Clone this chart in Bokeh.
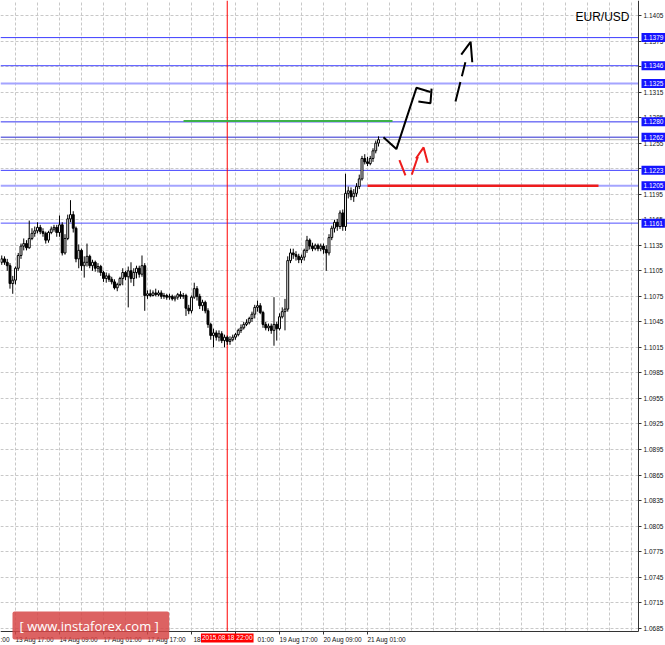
from bokeh.plotting import figure
from bokeh.models import ColumnDataSource, Range1d, FixedTicker, PrintfTickFormatter, Span, Label
from bokeh.embed import file_html
from bokeh.resources import INLINE

# ---------------- data (EUR/USD, H1 bars; index 0 = 13 Aug 17:00) ----------------
bar_index = list(range(-5, 133))
opens = [1.1115, 1.1119, 1.1115, 1.1111, 1.1090, 1.1094, 1.1108, 1.1123, 1.1134, 1.1137,
         1.1132, 1.1143, 1.1149, 1.1152, 1.1156, 1.1151, 1.1149, 1.1141, 1.1150, 1.1154,
         1.1156, 1.1150, 1.1159, 1.1126, 1.1143, 1.1166, 1.1171, 1.1155, 1.1119, 1.1129,
         1.1111, 1.1115, 1.1122, 1.1111, 1.1115, 1.1108, 1.1110, 1.1103, 1.1096, 1.1099,
         1.1095, 1.1092, 1.1085, 1.1089, 1.1096, 1.1103, 1.1098, 1.1105, 1.1096, 1.1103,
         1.1108, 1.1101, 1.1111, 1.1076, 1.1078, 1.1076, 1.1079, 1.1077, 1.1079, 1.1075,
         1.1076, 1.1074, 1.1075, 1.1072, 1.1074, 1.1077, 1.1075, 1.1076, 1.1061, 1.1058,
         1.1074, 1.1084, 1.1075, 1.1064, 1.1068, 1.1058, 1.1042, 1.1029, 1.1032, 1.1027,
         1.1031, 1.1023, 1.1027, 1.1022, 1.1024, 1.1027, 1.1030, 1.1035, 1.1038, 1.1042,
         1.1044, 1.1049, 1.1054, 1.1062, 1.1064, 1.1056, 1.1042, 1.1038, 1.1040, 1.1035,
         1.1042, 1.1037, 1.1051, 1.1057, 1.1060, 1.1117, 1.1126, 1.1124, 1.1122, 1.1118,
         1.1121, 1.1129, 1.1141, 1.1134, 1.1131, 1.1135, 1.1131, 1.1134, 1.1130, 1.1126,
         1.1144, 1.1155, 1.1162, 1.1157, 1.1173, 1.1157, 1.1196, 1.1199, 1.1192, 1.1196,
         1.1204, 1.1213, 1.1237, 1.1233, 1.1231, 1.1237, 1.1246, 1.1255]
highs = [1.1123, 1.1122, 1.1119, 1.1114, 1.1099, 1.1110, 1.1126, 1.1137, 1.1143, 1.1141,
         1.1164, 1.1155, 1.1157, 1.1162, 1.1159, 1.1155, 1.1151, 1.1152, 1.1157, 1.1159,
         1.1159, 1.1170, 1.1162, 1.1148, 1.1171, 1.1188, 1.1175, 1.1157, 1.1136, 1.1131,
         1.1122, 1.1137, 1.1124, 1.1118, 1.1117, 1.1114, 1.1112, 1.1105, 1.1103, 1.1102,
         1.1098, 1.1095, 1.1091, 1.1098, 1.1108, 1.1105, 1.1110, 1.1115, 1.1108, 1.1111,
         1.1111, 1.1123, 1.1114, 1.1082, 1.1083, 1.1082, 1.1084, 1.1082, 1.1082, 1.1079,
         1.1078, 1.1078, 1.1077, 1.1076, 1.1079, 1.1081, 1.1079, 1.1078, 1.1065, 1.1076,
         1.1091, 1.1087, 1.1078, 1.1071, 1.1070, 1.1061, 1.1044, 1.1037, 1.1035, 1.1035,
         1.1034, 1.1030, 1.1029, 1.1028, 1.1030, 1.1032, 1.1037, 1.1042, 1.1045, 1.1048,
         1.1051, 1.1057, 1.1065, 1.1070, 1.1067, 1.1058, 1.1045, 1.1043, 1.1043, 1.1074,
         1.1045, 1.1055, 1.1062, 1.1072, 1.1122, 1.1131, 1.1131, 1.1128, 1.1125, 1.1124,
         1.1131, 1.1146, 1.1143, 1.1138, 1.1137, 1.1137, 1.1137, 1.1137, 1.1135, 1.1148,
         1.1158, 1.1165, 1.1166, 1.1176, 1.1177, 1.1219, 1.1204, 1.1203, 1.1201, 1.1208,
         1.1218, 1.1240, 1.1242, 1.1239, 1.1240, 1.1249, 1.1258, 1.1263]
lows = [1.1112, 1.1112, 1.1105, 1.1084, 1.1078, 1.1089, 1.1105, 1.1119, 1.1129, 1.1129,
        1.1131, 1.1141, 1.1145, 1.1149, 1.1148, 1.1145, 1.1137, 1.1138, 1.1148, 1.1151,
        1.1145, 1.1145, 1.1123, 1.1124, 1.1141, 1.1162, 1.1150, 1.1115, 1.1108, 1.1105,
        1.1097, 1.1110, 1.1108, 1.1105, 1.1104, 1.1103, 1.1099, 1.1092, 1.1091, 1.1092,
        1.1089, 1.1083, 1.1081, 1.1087, 1.1088, 1.1094, 1.1062, 1.1091, 1.1087, 1.1096,
        1.1097, 1.1098, 1.1058, 1.1072, 1.1074, 1.1075, 1.1075, 1.1075, 1.1072, 1.1072,
        1.1071, 1.1071, 1.1070, 1.1069, 1.1071, 1.1072, 1.1072, 1.1052, 1.1054, 1.1055,
        1.1072, 1.1070, 1.1060, 1.1058, 1.1055, 1.1038, 1.1024, 1.1015, 1.1023, 1.1022,
        1.1020, 1.1015, 1.1018, 1.1018, 1.1022, 1.1024, 1.1028, 1.1032, 1.1036, 1.1040,
        1.1042, 1.1045, 1.1049, 1.1057, 1.1054, 1.1038, 1.1035, 1.1034, 1.1031, 1.1017,
        1.1023, 1.1035, 1.1049, 1.1035, 1.1057, 1.1114, 1.1119, 1.1117, 1.1114, 1.1114,
        1.1117, 1.1126, 1.1130, 1.1128, 1.1129, 1.1128, 1.1128, 1.1125, 1.1105, 1.1123,
        1.1141, 1.1150, 1.1152, 1.1154, 1.1152, 1.1152, 1.1190, 1.1188, 1.1186, 1.1192,
        1.1201, 1.1211, 1.1230, 1.1228, 1.1229, 1.1233, 1.1243, 1.1251]
closes = [1.1119, 1.1115, 1.1111, 1.1090, 1.1094, 1.1108, 1.1123, 1.1134, 1.1137, 1.1132,
          1.1143, 1.1149, 1.1152, 1.1156, 1.1151, 1.1149, 1.1141, 1.1150, 1.1154, 1.1156,
          1.1150, 1.1159, 1.1126, 1.1143, 1.1166, 1.1171, 1.1155, 1.1119, 1.1129, 1.1111,
          1.1115, 1.1122, 1.1111, 1.1115, 1.1108, 1.1110, 1.1103, 1.1096, 1.1099, 1.1095,
          1.1092, 1.1085, 1.1089, 1.1096, 1.1103, 1.1098, 1.1105, 1.1096, 1.1103, 1.1108,
          1.1101, 1.1111, 1.1076, 1.1078, 1.1076, 1.1079, 1.1077, 1.1079, 1.1075, 1.1076,
          1.1074, 1.1075, 1.1072, 1.1074, 1.1077, 1.1075, 1.1076, 1.1061, 1.1058, 1.1074,
          1.1084, 1.1075, 1.1064, 1.1068, 1.1058, 1.1042, 1.1029, 1.1032, 1.1027, 1.1031,
          1.1023, 1.1027, 1.1022, 1.1024, 1.1027, 1.1030, 1.1035, 1.1038, 1.1042, 1.1044,
          1.1049, 1.1054, 1.1062, 1.1064, 1.1056, 1.1042, 1.1038, 1.1040, 1.1035, 1.1042,
          1.1037, 1.1051, 1.1057, 1.1060, 1.1117, 1.1126, 1.1124, 1.1122, 1.1118, 1.1121,
          1.1129, 1.1141, 1.1134, 1.1131, 1.1135, 1.1131, 1.1134, 1.1130, 1.1126, 1.1144,
          1.1155, 1.1162, 1.1157, 1.1173, 1.1157, 1.1196, 1.1199, 1.1192, 1.1196, 1.1204,
          1.1213, 1.1237, 1.1233, 1.1231, 1.1237, 1.1246, 1.1255, 1.1259]

time_ticks = [0, 16, 32, 48, 64, 80, 96, 112, 128]
time_labels = ["13 Aug 17:00", "14 Aug 09:00", "17 Aug 01:00", "17 Aug 17:00", "18 Aug 09:00",
               "19 Aug 01:00", "19 Aug 17:00", "20 Aug 09:00", "21 Aug 01:00"]
marker_index = 77
marker_label = "2015.08.18 22:00"

price_ticks = [1.0685, 1.0715, 1.0745, 1.0775, 1.0805, 1.0835, 1.0865, 1.0895, 1.0925,
               1.0955, 1.0985, 1.1015, 1.1045, 1.1075, 1.1105, 1.1135, 1.1165, 1.1195,
               1.1225, 1.1255, 1.1285, 1.1315, 1.1345, 1.1375, 1.1405]

level_prices = [1.1379, 1.1346, 1.1325, 1.1280, 1.1262, 1.1223, 1.1205, 1.1161]
level_colors = ["#3c3cff", "#4646ff", "#a4a4ff", "#3232f0", "#2a2ad0", "#4040ff", "#a4a4ff", "#5050ff"]
level_widths = [1, 1, 2, 1, 1, 1, 2, 1]

green_x = [61.1, 137.1]
green_y = [1.1281, 1.1281]
red_x = [128.0, 212.0]
red_y = [1.1205, 1.1205]

forecast_x = [133.8, 138.5, 145.8, 150.9]
forecast_y = [1.1262, 1.1248, 1.1320, 1.1315]
pullback_x = [151.3, 150.9, 146.5]
pullback_y = [1.1319, 1.1302, 1.1304]
ext_x = [160.0, 163.6]
ext_y = [1.1304, 1.1350]
ext_head_x = [162.1, 165.5, 166.1]
ext_head_y = [1.1359, 1.1374, 1.1350]
alt_xs = [[139.6, 141.8], [144.1, 146.3], [145.6, 148.4, 149.9]]
alt_ys = [[1.1235, 1.1217], [1.1218, 1.1239], [1.1237, 1.1250, 1.1232]]

# ---------------- layout constants ----------------
FONT = "Liberation Sans"
W, H = 665, 645
X0, X1 = -5.4545, 236.3636          # whole canvas in bar units
Y0, Y1 = 1.0664725, 1.14226         # whole canvas in price units
AXIS_X = 226.545                    # price scale position (bar units)
AXIS_Y = 1.068118                   # time scale position (price units)
LABEL_SHIFT = 7                     # MT4 writes time labels to the right of the tick
visible_parts = {64: ("18", 2), 80: ("01:00", 11)}   # parts not hidden by the red date box

p = figure(width=W, height=H, x_range=Range1d(X0, X1), y_range=Range1d(Y0, Y1),
           output_backend="svg", toolbar_location=None, y_axis_location="right",
           min_border_left=0, min_border_top=0, min_border_right=0, min_border_bottom=0,
           background_fill_color="white", border_fill_color="white")
p.outline_line_color = None

# price axis
yax = p.yaxis[0]
yax.fixed_location = AXIS_X
yax.bounds = (AXIS_Y, Y1)
yax.ticker = FixedTicker(ticks=price_ticks)
yax.formatter = PrintfTickFormatter(format="%.4f")
yax.major_label_text_font = FONT
yax.major_label_text_font_size = "6.5px"
yax.major_label_text_color = "#111111"
yax.axis_line_color = "#333333"
yax.major_tick_line_color = "#333333"
yax.major_tick_out = 3
yax.major_tick_in = 0
yax.minor_tick_line_color = None
yax.major_label_standoff = 2

# time axis: tick marks at the bar, labels written to the right of it
label_pos, overrides = [-4], {-4: ":00"}
for t, s in zip(time_ticks, time_labels):
    if t in visible_parts:
        txt, sh = visible_parts[t]
    else:
        txt, sh = s, LABEL_SHIFT
    label_pos.append(t + sh)
    overrides[t + sh] = txt
xax = p.xaxis[0]
xax.fixed_location = AXIS_Y
xax.bounds = (X0, AXIS_X)
xax.ticker = FixedTicker(ticks=label_pos, minor_ticks=time_ticks)
xax.major_label_overrides = overrides
xax.major_label_text_font = FONT
xax.major_label_text_font_size = "6.5px"
xax.major_label_text_color = "#111111"
xax.axis_line_color = "#333333"
xax.major_tick_line_color = None
xax.major_tick_out = 0
xax.major_tick_in = 0
xax.minor_tick_line_color = "#333333"
xax.minor_tick_out = 3
xax.minor_tick_in = 0
xax.major_label_standoff = 2

p.xgrid[0].ticker = FixedTicker(ticks=list(range(-8, 232, 8)))
for g in (p.xgrid[0], p.ygrid[0]):
    g.grid_line_color = "#c8c8c8"
    g.grid_line_dash = "3 2"
    g.grid_line_width = 1

# level lines (under the candles)
for price, col, w in zip(level_prices, level_colors, level_widths):
    p.add_layout(Span(location=price, dimension="width", line_color=col, line_width=w, level="underlay"))
p.add_layout(Span(location=closes[-1], dimension="width", line_color="#b4b4b4", line_width=1, level="underlay"))
p.add_layout(Span(location=marker_index, dimension="height", line_color="#ff0000", line_width=1, level="underlay"))

# keep the scale margins clean (grid and lines stop at the scales)
p.quad(left=[AXIS_X, X0], right=[X1, X1], bottom=[Y0, Y0], top=[Y1, AXIS_Y],
       fill_color="white", line_color=None)

# candles
src = ColumnDataSource(dict(
    x=bar_index, o=opens, h=highs, l=lows, c=closes,
    top=[max(o, c) for o, c in zip(opens, closes)],
    bottom=[min(o, c) for o, c in zip(opens, closes)],
    fill=["white" if c >= o else "black" for o, c in zip(opens, closes)],
))
p.segment("x", "h", "x", "l", source=src, line_color="black", line_width=1)
p.vbar(x="x", width=0.7, top="top", bottom="bottom", fill_color="fill",
       line_color="black", line_width=1, source=src)

p.line(green_x, green_y, line_color="#3cb04a", line_width=2)
p.line(red_x, red_y, line_color="#ee1c1c", line_width=2.5)

# forecast drawings
p.line(forecast_x, forecast_y, line_color="black", line_width=2)
p.line(pullback_x, pullback_y, line_color="black", line_width=2)
p.line(ext_x, ext_y, line_color="black", line_width=2, line_dash="20 6")
p.line(ext_head_x, ext_head_y, line_color="black", line_width=2)
p.multi_line(alt_xs, alt_ys, line_color="#ee1c1c", line_width=2)

# red date marker on the time scale
p.add_layout(Label(x=marker_index, y=AXIS_Y, text=marker_label, text_align="center",
                   text_baseline="top", y_offset=-2, text_font=FONT, text_font_size="6.5px",
                   text_color="white", background_fill_color="#ff0000", padding=1, level="overlay"))

# price tags on the price scale
for price in level_prices:
    p.add_layout(Label(x=AXIS_X, y=price, text="%.4f" % price, x_offset=3,
                       text_align="left", text_baseline="middle", text_font=FONT,
                       text_font_size="6.5px", text_color="white",
                       background_fill_color="#1414ff", padding=2, level="overlay"))

p.add_layout(Label(x=575, x_units="screen", y=H - 9, y_units="screen", text="EUR/USD",
                   text_align="left", text_baseline="top", text_font=FONT,
                   text_font_size="12px", text_color="#000000", level="overlay"))

p.add_layout(Label(x=12, x_units="screen", y=20, y_units="screen", text="[  www.instaforex.com ]",
                   text_align="left", text_baseline="middle", text_font="Open Sans",
                   text_font_size="13px", text_color="white", background_fill_color="#d64646",
                   background_fill_alpha=0.85, padding=(7, 5), border_radius=2, level="overlay"))

open("out.html", "w").write(file_html(p, INLINE))
